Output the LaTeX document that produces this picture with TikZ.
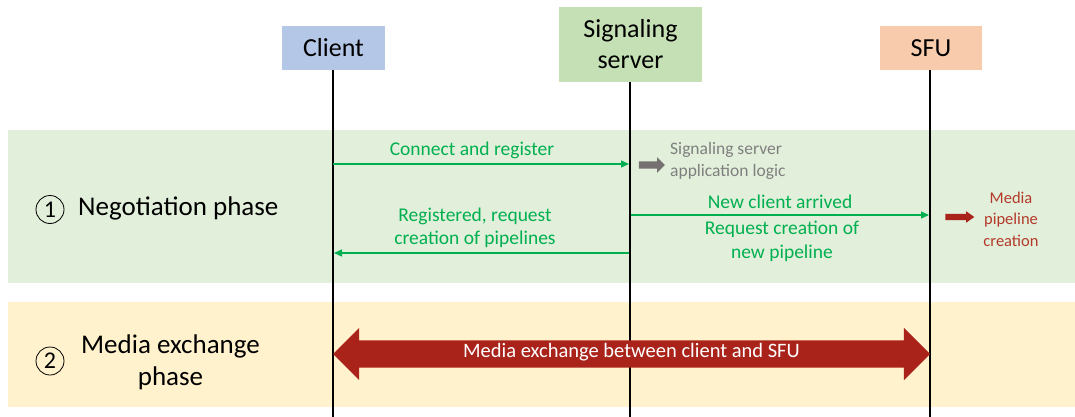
\documentclass[tikz,border=0pt]{standalone}
\usepackage{fontspec}
\setmainfont{Carlito}
\usetikzlibrary{arrows.meta,shapes.arrows}
\definecolor{bandgreen}{HTML}{E2EFDA}
\definecolor{bandyellow}{HTML}{FFF2CC}
\definecolor{clientblue}{HTML}{B4C7E7}
\definecolor{serverlime}{HTML}{C5E0B4}
\definecolor{sfupeach}{HTML}{F8CBAD}
\definecolor{msggreen}{HTML}{00B050}
\definecolor{logicgray}{HTML}{767171}
\definecolor{mediared}{HTML}{A9231A}
\definecolor{textgray}{HTML}{7F7F7F}
\definecolor{textred}{HTML}{B33A2A}
\tikzset{
  actor/.style={inner sep=0pt, font=\fontsize{26}{31}\selectfont, align=center},
  lifeline/.style={line width=1.6pt, black},
  msg/.style={line width=1.4pt, msggreen, -{Triangle[length=8pt,width=7pt]}},
  msglabel/.style={text=msggreen, font=\fontsize{19.5}{23.5}\selectfont, align=center, inner sep=0pt},
  phase/.style={font=\fontsize{27}{32}\selectfont, align=center, inner sep=0pt},
  phasenum/.style={circle, draw=black, line width=0.8pt, minimum size=28pt, inner sep=0pt, font=\fontsize{24}{28}\selectfont},
  smallarrow/.style={single arrow, draw=none, inner sep=0pt},
  bigarrow/.style={double arrow, fill=mediared, draw=none, minimum width=52pt, double arrow head extend=12.5pt, inner xsep=0pt, inner ysep=7pt, text height=10pt, text depth=3pt, text=white, font=\fontsize{20.5}{24}\selectfont},
}
\begin{document}
\begin{tikzpicture}[x=1pt,y=-1pt]
\useasboundingbox (0,0) rectangle (1075,417);
% phase bands
\fill[bandgreen] (8,130) rectangle (1075,283);
\fill[bandyellow] (8,302) rectangle (1075,407);
% participants
\node[actor, fill=clientblue, minimum width=103pt, minimum height=44pt] (client) at (333.5,48) {Client};
\node[actor, fill=serverlime, minimum width=143pt, minimum height=75pt] (server) at (630.5,44.5) {Signaling\\server};
\node[actor, fill=sfupeach, minimum width=102pt, minimum height=44pt] (sfu) at (931,48) {SFU};
% lifelines
\coordinate (clientend) at (333,417);
\coordinate (serverend) at (630,417);
\coordinate (sfuend) at (930,417);
\draw[lifeline] (client.south -| clientend) -- (clientend);
\draw[lifeline] (server.south -| serverend) -- (serverend);
\draw[lifeline] (sfu.south -| sfuend) -- (sfuend);
% negotiation messages
\coordinate (c1) at (333,164); \coordinate (s1) at (629,164);
\draw[msg] (c1) -- (s1);
\node[msglabel] (l1) at (472,150) {Connect and register};
\coordinate (s2) at (631,215); \coordinate (f2) at (929,215);
\draw[msg] (s2) -- (f2);
\node[msglabel] (l2) at (780,202) {New client arrived};
\node[msglabel] (l3) at (782,241.5) {Request creation of\\new pipeline};
\coordinate (s3) at (629,253); \coordinate (c3) at (334,253);
\draw[msg] (s3) -- (c3);
\node[msglabel] (l4) at (475,228) {Registered, request\\creation of pipelines};
% local processing notes
\node[smallarrow, fill=logicgray, minimum height=26pt, minimum width=15pt, inner ysep=3.5pt, single arrow head extend=4pt] (logic) at (650,165) {};
\node[anchor=west, text=textgray, font=\fontsize{17.5}{22}\selectfont, align=left, inner sep=0pt] (logictext) at (670,161) {Signaling server\\application logic};
\node[smallarrow, fill=mediared, minimum height=29pt, minimum width=11pt, inner ysep=3pt, single arrow head extend=2.5pt, single arrow tip angle=70] (pipe) at (957.5,217) {};
\node[text=textred, font=\fontsize{16.5}{21.5}\selectfont, align=center, inner sep=0pt] (pipetext) at (1011,219) {Media\\pipeline\\creation};
% phase labels
\node[phasenum] (p1num) at (50,209.5) {1};
\node[phase, anchor=west] (p1) at (78,208) {Negotiation phase};
\node[phasenum] (p2num) at (50,361) {2};
\node[phase] (p2) at (170.5,362) {Media exchange\\phase};
% media exchange
\node[bigarrow, minimum height=597pt] (media) at (631.5,354) {Media exchange between client and SFU};
\end{tikzpicture}
\end{document}
